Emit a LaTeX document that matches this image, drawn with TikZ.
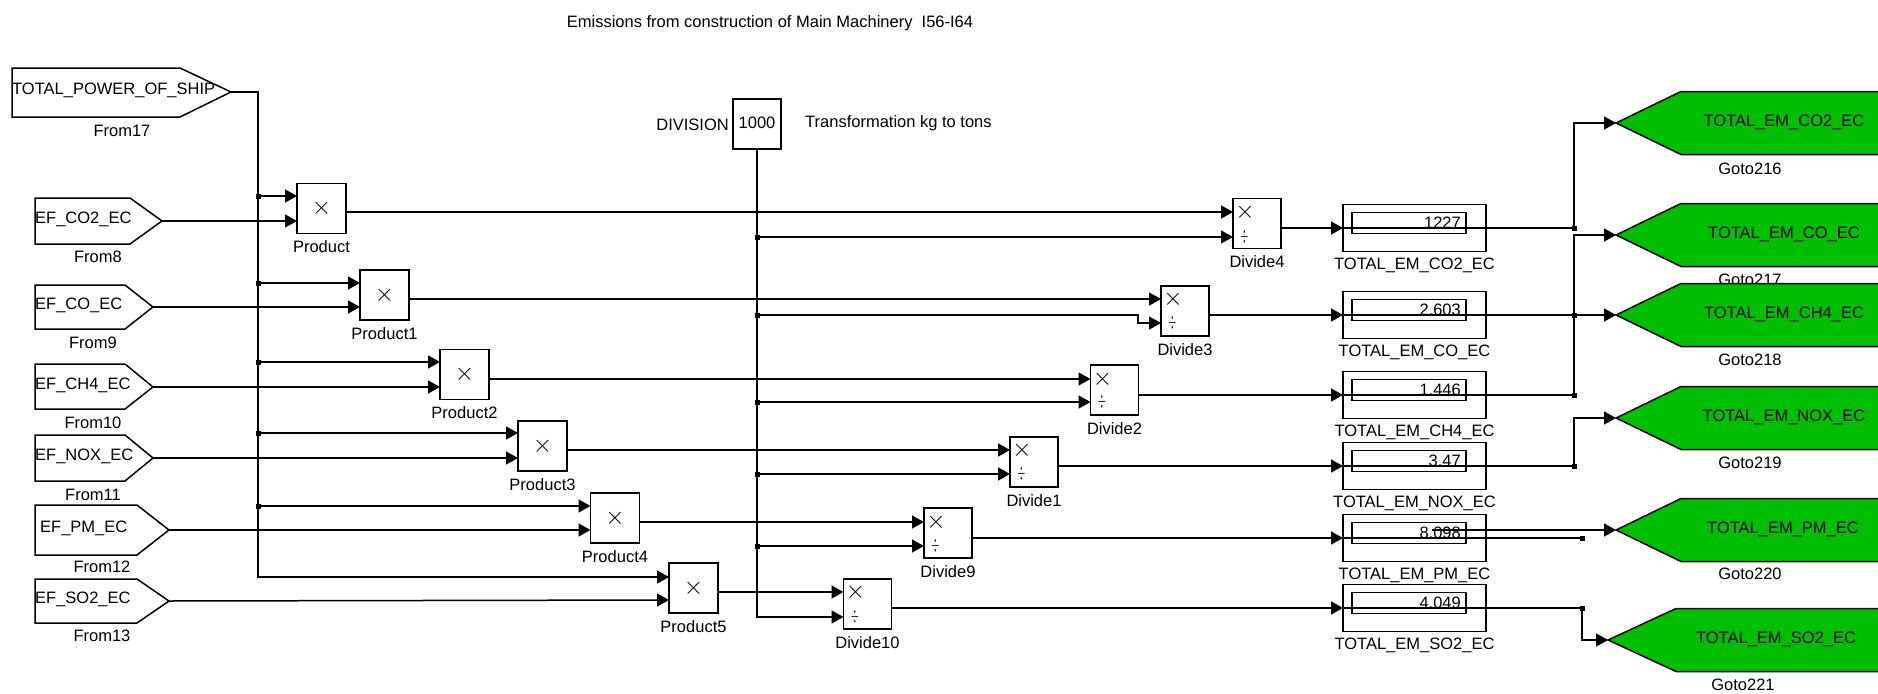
\documentclass[tikz,border=0pt]{standalone}
\usepackage{fontspec}
\setmainfont{Liberation Sans}
\usetikzlibrary{arrows.meta}
\definecolor{gotogreen}{RGB}{0,190,0}
\begin{document}
\begin{tikzpicture}[x=1pt,y=-1pt,
  wire/.style={line width=1.5pt},
  sig/.style={line width=1.5pt,-{Triangle[length=12pt,width=13pt]}},
  box/.style={draw,line width=1.5pt,inner sep=0pt},
  lbl/.style={inner sep=0pt,font=\fontsize{16.5}{18}\selectfont,text height=11.8pt,text depth=0pt},
  sym/.style={inner sep=0pt,font=\fontsize{27}{27}\selectfont},
  dsym/.style={inner sep=0pt,font=\fontsize{19}{19}\selectfont},
  jdot/.style={fill,inner sep=0pt,minimum size=5pt},
  frompoly/.style={draw,line width=1.5pt,fill=white},
  gotopoly/.style={draw,line width=1.5pt,fill=gotogreen},
]
\useasboundingbox (0,0) rectangle (1878,693);
\clip (0,0) rectangle (1878,693);

% title
\node[lbl] (title) at (770,22) {Emissions from construction of Main Machinery\ \ I56-I64};

% From blocks
\foreach \n/\txt/\lx/\top/\bot/\nx/\tx/\ly/\ttx/\lab/\labx/\laby in {
 17/TOTAL\_POWER\_OF\_SHIP/12/68/117/180/231/92/12/From17/122/131,
 8/EF\_CO2\_EC/35/198/244/130/162/221/35/From8/98/257,
 9/EF\_CO\_EC/35/285/329/125/153/307/35/From9/93/343,
 10/EF\_CH4\_EC/35/364/409/125/153/387/35/From10/93/423,
 11/EF\_NOX\_EC/35/435/481/125/153/458/35/From11/93/495,
 12/EF\_PM\_EC/35/505/555/137/169/530/40/From12/102/567,
 13/EF\_SO2\_EC/35/579/623/137/169/601/35/From13/102/636}{
  \path[frompoly] (\lx,\top) -- (\nx,\top) -- (\tx,\ly) -- (\nx,\bot) -- (\lx,\bot) -- cycle;
  \coordinate (F\n) at (\tx,\ly);
  \node[lbl,anchor=west] (Ft\n) at (\ttx,\ly-3) {\txt};
  \node[lbl] (Fl\n) at (\labx,\laby) {\lab};
}

% Product blocks
\foreach \n/\cx/\cy/\ia/\ib/\po/\lab in {
 0/321.5/208.5/196/221/212/Product,
 1/384.5/295/283/307/299/Product1,
 2/464.5/374.5/362/387/379/Product2,
 3/542.5/446/433/458/450/Product3,
 4/615/518/506/530/522/Product4,
 5/693.5/588/577/600/592/Product5}{
  \node[box,minimum width=49pt,minimum height=50pt] (P\n) at (\cx,\cy) {};
  \node[sym] (Px\n) at (\cx,\cy) {$\times$};
  \node[lbl] (Pl\n) at (\cx,\cy+38.5) {\lab};
  \coordinate (Pa\n) at (\cx-24.5,\ia);
  \coordinate (Pb\n) at (\cx-24.5,\ib);
  \coordinate (Po\n) at (\cx+24.5,\po);
  \coordinate (B\n) at (258,\ia);
}

% Division constant
\node[box,minimum width=48pt,minimum height=50pt] (DIV) at (757,124) {};
\node[lbl] (DIVv) at (757,123) {1000};
\node[lbl,anchor=east] (DIVl) at (729,125) {DIVISION};
\node[lbl,anchor=west] (DIVn) at (805,122) {Transformation kg to tons};

% Divide blocks
\foreach \n/\cx/\cy/\ia/\ib/\po/\lab in {
 0/1257/223.5/212/237/228/Divide4,
 1/1185/311/299/323/315/Divide3,
 2/1114.5/390/379/402/395/Divide2,
 3/1034/462/450/474/466/Divide1,
 4/948/533/522/546/538/Divide9,
 5/867.5/604/592/617/608/Divide10}{
  \node[box,minimum width=48pt,minimum height=50pt] (D\n) at (\cx,\cy) {};
  \node[sym] (Dx\n) at (\cx-12,\ia) {$\times$};
  \node[dsym] (Dd\n) at (\cx-12.5,\ib) {\scalebox{0.6}[1.3]{$\div$}};
  \node[lbl] (Dl\n) at (\cx,\cy+38.5) {\lab};
  \coordinate (Da\n) at (\cx-24,\ia);
  \coordinate (Db\n) at (\cx-24,\ib);
  \coordinate (Do\n) at (\cx+24,\po);
}

% Display blocks
\foreach \n/\y/\val/\lab in {
 0/228/1227/TOTAL\_EM\_CO2\_EC,
 1/315/2.603/TOTAL\_EM\_CO\_EC,
 2/395/1.446/TOTAL\_EM\_CH4\_EC,
 3/466/3.47/TOTAL\_EM\_NOX\_EC,
 4/538/8.098/TOTAL\_EM\_PM\_EC,
 5/608/4.049/TOTAL\_EM\_SO2\_EC}{
  \node[box,minimum width=143pt,minimum height=47pt] (S\n) at (1414.5,\y) {};
  \node[box,line width=1.3pt,minimum width=114pt,minimum height=21pt] (Sv\n) at (1409,\y-5) {};
  \node[lbl,anchor=east] (St\n) at (1461,\y-5) {\val};
  \node[lbl] (Sl\n) at (1414.5,\y+36) {\lab};
  \coordinate (Si\n) at (1343,\y);
}

% Goto blocks
\foreach \n/\cy/\tx/\sx/\txt/\ttx/\lab/\labx/\laby in {
 216/123/1616/1681/TOTAL\_EM\_CO2\_EC/1784/Goto216/1750/169,
 217/235/1616/1681/TOTAL\_EM\_CO\_EC/1784/Goto217/1750/280,
 218/315/1616/1681/TOTAL\_EM\_CH4\_EC/1784/Goto218/1750/360,
 219/418/1616/1681/TOTAL\_EM\_NOX\_EC/1784/Goto219/1750/463,
 220/530/1616/1681/TOTAL\_EM\_PM\_EC/1783/Goto220/1750/574,
 221/640/1608/1676/TOTAL\_EM\_SO2\_EC/1776/Goto221/1743/685}{
  \path[gotopoly] (\tx,\cy) -- (\sx,\cy-31.5) -- (1900,\cy-31.5) -- (1900,\cy+31.5) -- (\sx,\cy+31.5) -- cycle;
  \coordinate (G\n) at (\tx,\cy);
  \node[lbl] (Gt\n) at (\ttx,\cy-2) {\txt};
  \node[lbl] (Gl\n) at (\labx,\laby) {\lab};
}

% left bus from TOTAL_POWER_OF_SHIP
\coordinate (busTop) at (258,92);
\coordinate (busBot) at (258,577);
\draw[sig] (F17) -- (busTop) -- (busBot) -- (Pa5);
\foreach \n in {0,...,4}{
  \draw[sig] (B\n) -- (Pa\n);
  \node[jdot] (jb\n) at (B\n) {};
}
% emission factors into products
\draw[sig] (F8) -- (Pb0);
\draw[sig] (F9) -- (Pb1);
\draw[sig] (F10) -- (Pb2);
\draw[sig] (F11) -- (Pb3);
\draw[sig] (F12) -- (Pb4);
\draw[sig] (F13) -- (Pb5);

% products into divides
\foreach \n in {0,...,5}{
  \draw[sig] (Po\n) -- (Da\n);
}

% division bus
\coordinate (divBot) at (757,617);
\draw[sig] (DIV.south) -- (divBot) -- (Db5);
\coordinate (C0) at (757,237);
\coordinate (C1) at (757,315);
\coordinate (C2) at (757,402);
\coordinate (C3) at (757,474);
\coordinate (C4) at (757,546);
\coordinate (jog1) at (1138,315);
\draw[sig] (C0) -- (Db0);
\draw[sig] (C1) -- (jog1) |- (Db1);
\draw[sig] (C2) -- (Db2);
\draw[sig] (C3) -- (Db3);
\draw[sig] (C4) -- (Db4);
\foreach \n in {0,...,4}{
  \node[jdot] (jc\n) at (C\n) {};
}

% divides into displays
\foreach \n in {0,...,5}{
  \draw[sig] (Do\n) -- (Si\n);
}

% displays to gotos
\coordinate (J0) at (1574,228);
\coordinate (J1) at (1574,315);
\coordinate (J2) at (1574,395);
\coordinate (J3) at (1574,466);
\coordinate (J4) at (1582,538);
\coordinate (J5) at (1582,608);
\coordinate (S4b) at (1432,530);
\draw[sig] (Si0) -- (J0) |- (G216);
\draw[sig] (Si1) -- (G218);
\draw[sig] (Si2) -- (J2) |- (G217);
\draw[sig] (Si3) -- (J3) |- (G219);
\draw[wire] (Si4) -- (J4);
\draw[sig] (S4b) -- (G220);
\draw[sig] (Si5) -- (J5) |- (G221);
\foreach \n in {0,...,5}{
  \node[jdot] (jr\n) at (J\n) {};
}
\end{tikzpicture}
\end{document}
